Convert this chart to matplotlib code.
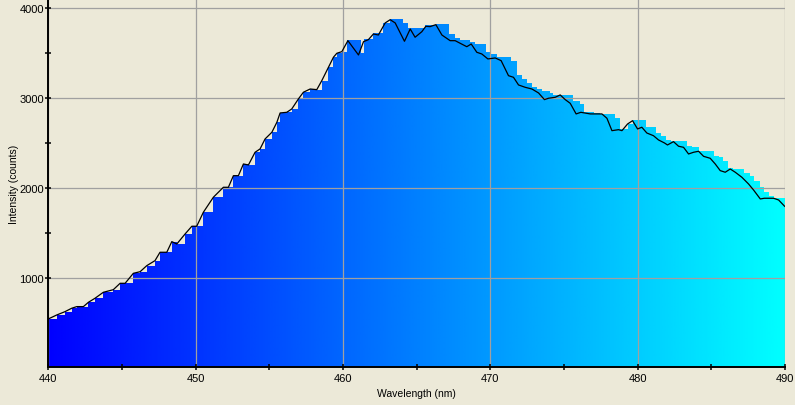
import numpy as np
import matplotlib.pyplot as plt
from matplotlib.colors import LinearSegmentedColormap

# measured spectrum (line)
line_wl = [440.00, 440.57, 441.13, 441.59, 441.93, 442.38, 442.72, 443.17, 443.73, 444.41,
           444.87, 445.21, 445.77, 446.23, 446.68, 447.24, 447.58, 448.04, 448.38, 448.72,
           449.28, 449.74, 450.07, 450.52, 451.20, 451.88, 452.22, 452.56, 452.90, 453.24,
           453.58, 454.03, 454.37, 454.71, 455.17, 455.51, 455.73, 456.18, 456.52, 456.97,
           457.31, 457.77, 458.22, 458.56, 459.01, 459.35, 459.58, 459.92, 460.33, 461.05,
           461.39, 461.72, 462.06, 462.40, 462.86, 463.20, 463.54, 464.17, 464.56, 464.89,
           465.35, 465.62, 465.91, 466.30, 466.71, 467.27, 467.61, 467.95, 468.40, 468.70,
           469.08, 469.42, 469.83, 470.33, 470.73, 471.23, 471.57, 471.91, 472.36, 472.82,
           473.27, 473.67, 473.94, 474.40, 474.74, 475.08, 475.42, 475.82, 476.14, 476.78,
           477.57, 477.91, 478.25, 478.70, 478.93, 479.31, 479.65, 479.99, 480.28, 480.62,
           481.07, 481.41, 481.82, 482.02, 482.43, 482.77, 483.11, 483.45, 483.79, 484.13,
           484.47, 484.92, 485.26, 485.60, 485.94, 486.28, 486.62, 487.07, 487.52, 487.86,
           488.32, 488.59, 489.22, 489.56, 489.97]
line_counts = [548, 592, 629, 667, 685, 685, 733, 778, 844, 873,
               944, 944, 1055, 1073, 1140, 1196, 1289, 1289, 1407, 1381,
               1492, 1578, 1578, 1733, 1900, 2011, 2011, 2140, 2140, 2270,
               2259, 2400, 2437, 2548, 2622, 2733, 2837, 2844, 2881, 2992,
               3067, 3103, 3096, 3196, 3344, 3456, 3500, 3518, 3640, 3481,
               3629, 3651, 3714, 3703, 3837, 3873, 3837, 3633, 3770, 3678,
               3740, 3800, 3796, 3818, 3703, 3640, 3640, 3611, 3573, 3603,
               3511, 3492, 3437, 3448, 3418, 3251, 3233, 3148, 3122, 3103,
               3059, 2985, 3000, 3011, 3037, 2985, 2944, 2826, 2844, 2826,
               2826, 2778, 2640, 2651, 2640, 2714, 2751, 2659, 2678, 2614,
               2584, 2537, 2503, 2481, 2518, 2467, 2455, 2381, 2400, 2411,
               2355, 2333, 2270, 2196, 2178, 2214, 2178, 2122, 2048, 1981,
               1881, 1889, 1889, 1870, 1800]

# coloured step fill (left edges and heights)
fill_wl = [440.00, 440.57, 441.13, 441.59, 441.93, 442.38, 442.72, 443.17, 443.73, 444.41,
           444.87, 445.21, 445.77, 446.23, 446.68, 447.24, 447.58, 448.04, 448.38, 448.72,
           449.28, 449.74, 450.07, 450.52, 451.20, 451.88, 452.22, 452.56, 452.90, 453.24,
           453.58, 454.03, 454.37, 454.71, 455.17, 455.51, 455.73, 456.18, 456.52, 456.97,
           457.31, 457.77, 458.22, 458.56, 459.01, 459.35, 459.58, 459.92,
           460.30, 461.23, 461.39, 462.02, 462.74, 463.20, 464.06, 464.44, 465.53, 466.30,
           467.16, 467.61, 467.95, 468.63, 468.97, 469.69, 470.05, 470.44, 471.41, 471.80,
           472.16, 472.50, 472.84, 473.18, 473.52, 474.06, 474.24, 475.60, 476.05, 476.37,
           477.00, 477.41, 478.47, 478.81, 479.31, 479.67, 480.58, 481.26, 481.60, 481.94,
           482.25, 483.34, 483.68, 484.13, 485.15, 485.49, 485.78, 486.16, 486.50, 487.23,
           487.59, 487.91, 488.27, 488.59, 488.93, 489.27, 490.00]
fill_counts = [548, 592, 629, 667, 685, 685, 733, 778, 844, 873,
               944, 944, 1055, 1073, 1140, 1196, 1289, 1289, 1407, 1381,
               1492, 1578, 1578, 1733, 1900, 2011, 2011, 2140, 2140, 2270,
               2259, 2400, 2437, 2548, 2622, 2733, 2837, 2844, 2881, 2992,
               3067, 3103, 3096, 3196, 3344, 3456, 3500, 3518,
               3651, 3500, 3659, 3725, 3837, 3881, 3837, 3781, 3815, 3826,
               3714, 3670, 3648, 3620, 3605, 3511, 3492, 3456, 3418, 3259,
               3214, 3170, 3125, 3105, 3085, 3059, 3037, 2966, 2937, 2851,
               2837, 2826, 2778, 2659, 2714, 2759, 2685, 2614, 2585, 2540,
               2526, 2467, 2456, 2414, 2355, 2344, 2300, 2229, 2215, 2167,
               2133, 2078, 2011, 1963, 1911, 1892, 1892]

bg = '#ECE9D8'
plt.rcParams['font.family'] = ['Liberation Sans', 'DejaVu Sans']

fig = plt.figure(figsize=(7.95, 4.06), dpi=100, facecolor=bg)
ax = fig.add_axes([0.0608, 0.0936, 0.9267, 0.9064], facecolor=bg)

# step polygon used as clip for the blue->cyan gradient
poly = ax.fill_between(fill_wl, fill_counts, 0, step='post',
                       facecolor='none', edgecolor='none', linewidth=0)
cmap = LinearSegmentedColormap.from_list('bluecyan', ['#0000ff', '#00ffff'])
grad = np.linspace(0, 1, 512).reshape(1, -1)
im = ax.imshow(grad, cmap=cmap, aspect='auto', extent=(440, 490, 0, 4200),
               origin='lower', zorder=1, interpolation='bilinear')
im.set_clip_path(poly.get_paths()[0], ax.transData)

ax.plot(line_wl, line_counts, color='black', linewidth=0.9, zorder=3)

ax.set_xlim(440, 490)
ax.set_ylim(14, 4103)

ax.set_xticks(range(440, 491, 10))
ax.set_xticks(range(445, 490, 10), minor=True)
ax.set_yticks([1000, 2000, 3000, 4000])
ax.set_yticks([1500, 2500, 3500], minor=True)
ax.tick_params(axis='both', which='both', direction='inout', length=4.5,
               width=1.1, labelsize=8, colors='black', pad=2)
ax.tick_params(axis='y', pad=1)

ax.set_axisbelow(False)
ax.grid(True, which='major', color='#a0a0a0', linewidth=0.9, zorder=2)

for s in ['top', 'right']:
    ax.spines[s].set_visible(False)
for s in ['left', 'bottom']:
    ax.spines[s].set_linewidth(1.4)
    ax.spines[s].set_zorder(4)

ax.set_xlabel('Wavelength (nm)', fontsize=7.5, labelpad=4)
ax.set_ylabel('Intensity (counts)', fontsize=7.5, labelpad=0.5)

plt.savefig('out.png', dpi=100, facecolor=bg)
